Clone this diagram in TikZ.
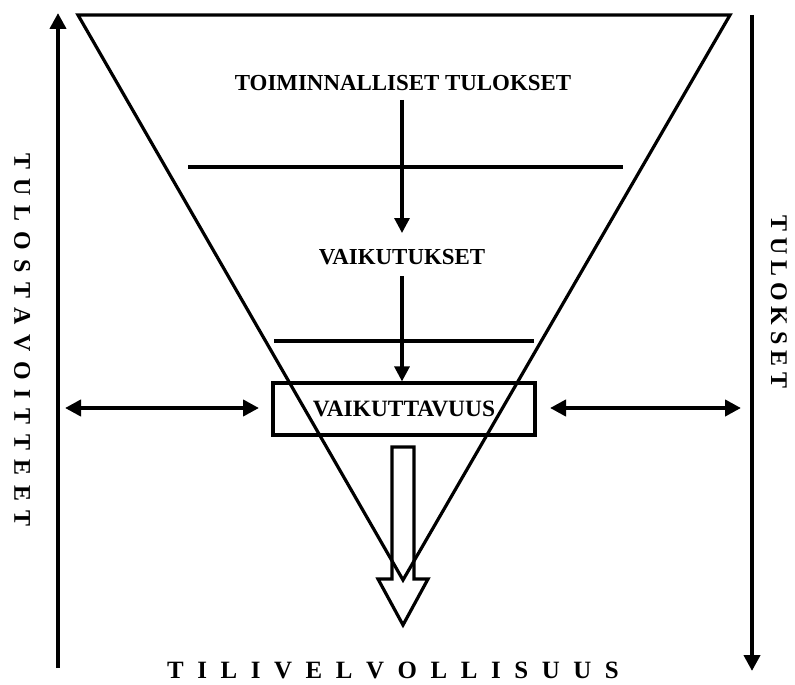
\documentclass[tikz,border=0pt]{standalone}
\usepackage{fontspec}
\setmainfont{Liberation Serif}
\usetikzlibrary{arrows.meta}
\begin{document}
\begin{tikzpicture}[x=1bp,y=-1bp,
  thickline/.style={line width=3.2bp},
  arr/.style={line width=3.2bp,-{Triangle[width=15bp,length=15bp]}},
  bigarr/.style={line width=4bp,-{Triangle[width=16bp,length=16bp]}},
  darr/.style={line width=4bp,{Triangle[width=16bp,length=16bp]}-{Triangle[width=16bp,length=16bp]}},
  lbl/.style={font=\fontsize{23}{26}\selectfont\bfseries,inner sep=0pt},
  spaced/.style={font=\fontsize{24}{26}\selectfont\bfseries,inner sep=0pt}]
\useasboundingbox (0,0) rectangle (795,685);
% triangle
\coordinate (tl) at (78,15);
\coordinate (tr) at (730,15);
\coordinate (ap) at (403,580);
\draw[thickline,line join=miter] (tl) -- (tr) -- (ap) -- cycle;
% horizontal lines
\coordinate (h1a) at (188,167); \coordinate (h1b) at (623,167);
\coordinate (h2a) at (274,341); \coordinate (h2b) at (534,341);
\draw[thickline] (h1a) -- (h1b);
\draw[thickline] (h2a) -- (h2b);
% texts
\node[lbl] (toim) at (403,83) {TOIMINNALLISET TULOKSET};
\node[lbl] (vaik) at (402,257) {VAIKUTUKSET};
\node[draw,line width=3.2bp,minimum width=262bp,minimum height=52bp,inner sep=0pt,font=\fontsize{23.5}{26}\selectfont\bfseries] (box) at (404,409) {VAIKUTTAVUUS};
% down arrows
\coordinate (a1s) at (402,100);
\coordinate (a1e) at (402,233);
\draw[arr] (a1s) -- (a1e);
\coordinate (a2s) at (402,276);
\draw[arr] (a2s) -- (box.north -| a2s);
% side double arrows
\coordinate (dl1) at (65,408); \coordinate (dl2) at (259,408);
\coordinate (dr1) at (550,408); \coordinate (dr2) at (741,408);
\draw[darr] (dl1) -- (dl2);
\draw[darr] (dr1) -- (dr2);
% vertical arrows
\coordinate (lv1) at (58,668); \coordinate (lv2) at (58,13);
\coordinate (rv1) at (752,15); \coordinate (rv2) at (752,671);
\draw[bigarr] (lv1) -- (lv2);
\draw[bigarr] (rv1) -- (rv2);
% hollow arrow
\draw[thickline,line join=miter] (392,447) -- (414,447) -- (414,579) -- (428,579) -- (403,625) -- (378,579) -- (392,579) -- cycle;
% vertical texts
\node[spaced,rotate=-90] (lt) at (22,340) {\spaceskip=9.6bp T U L O S T A V O I T T E E T};
\node[spaced,rotate=-90] (rt) at (779,302) {\spaceskip=6bp T U L O K S E T};
\node[font=\fontsize{25}{27}\selectfont\bfseries,inner sep=0pt] (bt) at (393,670) {\spaceskip=13.6bp T I L I V E L V O L L I S U U S};
\end{tikzpicture}
\end{document}
